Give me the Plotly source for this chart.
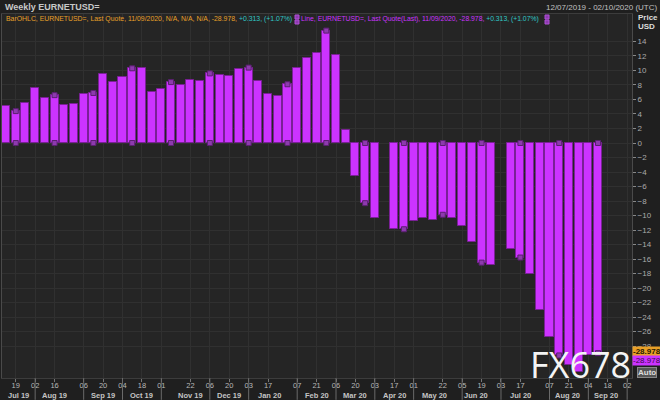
import plotly.graph_objects as go

# ---- data ----
dates = [
    "2019-07-12", "2019-07-19", "2019-07-26", "2019-08-02", "2019-08-09", "2019-08-16",
    "2019-08-23", "2019-08-30", "2019-09-06", "2019-09-13", "2019-09-20", "2019-09-27",
    "2019-10-04", "2019-10-11", "2019-10-18", "2019-10-25", "2019-11-01", "2019-11-08",
    "2019-11-15", "2019-11-22", "2019-11-29", "2019-12-06", "2019-12-13", "2019-12-20",
    "2019-12-27", "2020-01-03", "2020-01-10", "2020-01-17", "2020-01-24", "2020-01-31",
    "2020-02-07", "2020-02-14", "2020-02-21", "2020-02-28", "2020-03-06", "2020-03-13",
    "2020-03-20", "2020-03-27", "2020-04-03", "2020-04-17", "2020-04-24", "2020-05-01",
    "2020-05-08", "2020-05-15", "2020-05-22", "2020-05-29", "2020-06-05", "2020-06-12",
    "2020-06-19", "2020-06-26", "2020-07-10", "2020-07-17", "2020-07-24", "2020-07-31",
    "2020-08-07", "2020-08-14", "2020-08-21", "2020-08-28", "2020-09-04", "2020-09-11",
]
net_usd = [
    5.1, 4.4, 5.5, 7.6, 6.2, 6.6,
    5.3, 5.4, 6.8, 6.9, 9.5, 8.4,
    9.1, 10.3, 10.4, 7.1, 7.4, 8.4,
    8.0, 8.7, 8.5, 9.6, 9.4, 9.2,
    10.2, 10.4, 8.6, 6.7, 6.5, 8.1,
    10.4, 11.7, 12.4, 15.5, 12.2, 1.8,
    -4.5, -8.3, -10.3, -11.9, -11.9, -10.8,
    -10.4, -10.6, -9.9, -10.4, -11.4, -13.6,
    -16.5, -16.8, -14.6, -15.8, -18.1, -23.1,
    -26.8, -29.3, -30.6, -31.6, -29.291, -28.978,
]
# line-series markers (every 4th week)
marker_dates = ["2019-07-19", "2019-08-16", "2019-09-13", "2019-10-11", "2019-11-08",
                "2019-12-06", "2020-01-03", "2020-01-31", "2020-02-28", "2020-03-27",
                "2020-04-24", "2020-05-22", "2020-06-19", "2020-07-17", "2020-08-14",
                "2020-09-11"]

tick_dates = ["2019-07-19", "2019-08-02", "2019-08-16", "2019-09-06", "2019-09-20",
              "2019-10-04", "2019-10-18", "2019-11-01", "2019-11-22", "2019-12-06",
              "2019-12-20", "2020-01-03", "2020-01-17", "2020-02-07", "2020-02-21",
              "2020-03-06", "2020-03-20", "2020-04-03", "2020-04-17", "2020-05-01",
              "2020-05-22", "2020-06-05", "2020-06-19", "2020-07-03", "2020-07-17",
              "2020-08-07", "2020-08-21", "2020-09-04", "2020-09-18", "2020-10-02"]
tick_labels = ["19", "02", "16", "06", "20", "04", "18", "01", "22", "06", "20", "03",
               "17", "07", "21", "06", "20", "03", "17", "01", "22", "05", "19", "03",
               "17", "07", "21", "04", "18", "02"]
month_sep_dates = ["2019-08-02", "2019-09-06", "2019-10-04", "2019-11-01", "2019-12-06",
                   "2020-01-03", "2020-02-07", "2020-03-06", "2020-04-03", "2020-05-01",
                   "2020-06-05", "2020-07-03", "2020-08-07", "2020-09-04", "2020-10-02"]
month_label_dates = ["2019-07-21", "2019-08-16", "2019-09-20", "2019-10-18", "2019-11-22",
                     "2019-12-20", "2020-01-18", "2020-02-21", "2020-03-20", "2020-04-17",
                     "2020-05-16", "2020-06-15", "2020-07-17", "2020-08-20", "2020-09-17"]
month_labels = ["Jul 19", "Aug 19", "Sep 19", "Oct 19", "Nov 19", "Dec 19", "Jan 20",
                "Feb 20", "Mar 20", "Apr 20", "May 20", "Jun 20", "Jul 20", "Aug 20",
                "Sep 20"]
y_ticks = list(range(-28, 16, 2))

last_value = net_usd[-1]
val_by_date = dict(zip(dates, net_usd))

FONT = "Liberation Sans"
BAR = "#cc33ff"
ORANGE = "#e8a028"
TEAL = "#2fc8c8"

fig = go.Figure()
fig.add_trace(go.Bar(
    x=dates, y=net_usd,
    width=5.8 * 86400000,
    marker=dict(color=BAR, line=dict(color="#7a2096", width=1)),
    hoverinfo="x+y",
))
mx = marker_dates + marker_dates
my = [val_by_date[d] for d in marker_dates] + [0] * len(marker_dates)
fig.add_trace(go.Scatter(
    x=mx, y=my, mode="markers",
    marker=dict(symbol="square", size=5, color="#8d3aae",
                line=dict(color="#5a2070", width=1)),
    hoverinfo="skip",
))

shapes = []
for d in month_sep_dates:
    shapes.append(dict(type="line", xref="x", yref="paper", x0=d, x1=d, y0=0, y1=-0.06,
                       line=dict(color="#6a6a6a", width=1)))
# header markers
for px in (295, 545):
    xp = (px - 2) / 630
    shapes.append(dict(type="rect", xref="paper", yref="paper",
                       x0=xp, x1=xp + 4 / 630, y0=(378 - 15) / 364, y1=(378 - 19) / 364,
                       fillcolor="#8d3aae", line=dict(color="#b050d8", width=1)))
    shapes.append(dict(type="rect", xref="paper", yref="paper",
                       x0=xp, x1=xp + 4 / 630, y0=(378 - 20) / 364, y1=(378 - 24) / 364,
                       fillcolor="#8d3aae", line=dict(color="#b050d8", width=1)))

ann = []
for d, t in zip(month_label_dates, month_labels):
    ann.append(dict(x=d, xref="x", y=-0.048, yref="paper", text="<b>" + t + "</b>",
                    showarrow=False, yanchor="middle", xanchor="center",
                    font=dict(family=FONT, size=7.5, color="#c4c4c4")))

ann.append(dict(x=0.002, xref="paper", y=(378 - 7) / 364, yref="paper",
                text="<b>Weekly EURNETUSD=</b>", showarrow=False, xanchor="left",
                yanchor="middle", font=dict(family=FONT, size=9, color="#c8c8c8")))
ann.append(dict(x=1.045, xref="paper", y=(378 - 7) / 364, yref="paper",
                text="12/07/2019 - 02/10/2020 (UTC)", showarrow=False, xanchor="right",
                yanchor="middle", font=dict(family=FONT, size=8, color="#c0c0c0")))
hdr1 = (f"<span style='color:{ORANGE}'>BarOHLC, EURNETUSD=, Last Quote, 11/09/2020, N/A, N/A, N/A, {last_value}, </span>"
        f"<span style='color:{TEAL}'>+0.313, (+1.07%)</span>")
hdr2 = (f"<span style='color:{BAR}'>Line, EURNETUSD=, Last Quote(Last), 11/09/2020, {last_value}, </span>"
        f"<span style='color:{TEAL}'>+0.313, (+1.07%)</span>")
ann.append(dict(x=(4 - 2) / 630, xref="paper", y=(378 - 19) / 364, yref="paper", text=hdr1,
                showarrow=False, xanchor="left", yanchor="middle",
                font=dict(family=FONT, size=6.9, color=ORANGE)))
ann.append(dict(x=(299 - 2) / 630, xref="paper", y=(378 - 19) / 364, yref="paper", text=hdr2,
                showarrow=False, xanchor="left", yanchor="middle",
                font=dict(family=FONT, size=6.8, color=BAR)))
ann.append(dict(x=1.006, xref="paper", y=(378 - 18) / 364, yref="paper", text="<b>Price</b>",
                showarrow=False, xanchor="left", yanchor="middle",
                font=dict(family=FONT, size=8, color="#dddddd")))
ann.append(dict(x=1.006, xref="paper", y=(378 - 27) / 364, yref="paper", text="<b>USD</b>",
                showarrow=False, xanchor="left", yanchor="middle",
                font=dict(family=FONT, size=8, color="#dddddd")))
# last value boxes
ann.append(dict(x=1.0, xref="paper", y=last_value, yref="y", text=f"<b>{last_value}</b>",
                showarrow=False, xanchor="left", yanchor="middle", bgcolor=ORANGE,
                borderpad=0, yshift=2,
                font=dict(family=FONT, size=8, color="#2a1a00")))
ann.append(dict(x=1.0, xref="paper", y=last_value, yref="y", text=f"{last_value}",
                showarrow=False, xanchor="left", yanchor="middle", bgcolor=BAR,
                borderpad=0, yshift=-7,
                font=dict(family=FONT, size=8, color="#3a0a4a")))
ann.append(dict(x=1.008, xref="paper", y=0.014, yref="paper", text="<b>Auto</b>",
                showarrow=False, xanchor="left", yanchor="middle", bgcolor="#555555",
                bordercolor="#888888", borderwidth=1, borderpad=0,
                font=dict(family=FONT, size=8, color="#dddddd")))
# watermark
ann.append(dict(x=(580 - 2) / 630, xref="paper", y=(378 - 364) / 364, yref="paper",
                text="FX678", showarrow=False, xanchor="center", yanchor="middle",
                height=30, valign="middle", borderpad=0,
                font=dict(family="Open Sans", size=36, color="#f4f4f4")))

fig.update_layout(
    width=660, height=400,
    margin=dict(l=2, r=28, t=14, b=22),
    paper_bgcolor="#1f1f1f", plot_bgcolor="#252525",
    showlegend=False, bargap=0,
    shapes=shapes, annotations=ann,
    xaxis=dict(type="date", range=["2019-07-09 02:00", "2020-10-05 12:00"],
               tickvals=tick_dates, ticktext=tick_labels,
               ticks="outside", ticklen=3, tickcolor="#777777",
               ticklabelstandoff=-3,
               showgrid=True, gridcolor="#303030", gridwidth=1,
               tickfont=dict(family=FONT, size=7.5, color="#b8b8b8"),
               zeroline=False, showline=True, mirror=True, linecolor="#3c3c3c",
               fixedrange=True),
    yaxis=dict(side="right", range=[-32.41, 17.79], tickvals=y_ticks,
               ticks="outside", ticklen=3, tickcolor="#888888",
               showgrid=True, gridcolor="#303030", gridwidth=1,
               tickfont=dict(family=FONT, size=8, color="#aaaaaa"),
               zeroline=False, showline=True, mirror=True, linecolor="#4a4a4a",
               fixedrange=True),
)

fig.write_html("out.html")
